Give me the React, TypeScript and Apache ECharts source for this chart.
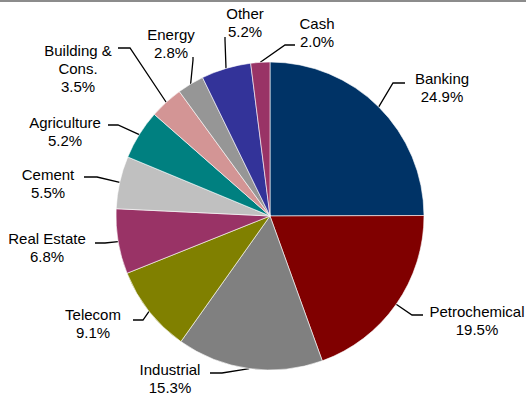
import React, { useEffect, useRef } from "react";
import * as echarts from "echarts";

// Portfolio allocation by sector (percent)
const sectors = [
  "Banking",
  "Petrochemical",
  "Industrial",
  "Telecom",
  "Real Estate",
  "Cement",
  "Agriculture",
  "Building & Cons.",
  "Energy",
  "Other",
  "Cash",
];
const weights = [24.9, 19.5, 15.3, 9.1, 6.8, 5.5, 5.2, 3.5, 2.8, 5.2, 2.0];
const colors = [
  "#003366",
  "#800000",
  "#808080",
  "#808000",
  "#993366",
  "#c0c0c0",
  "#008080",
  "#d39595",
  "#969696",
  "#333399",
  "#993366",
];

// Label placement: text block centre, leader-line bend and leader-line end
const labelCenters = [
  [442, 87],
  [477, 320],
  [170, 378],
  [93, 323],
  [47, 247],
  [48, 183],
  [65, 131],
  [78, 68],
  [171, 43],
  [245, 22],
  [317, 32],
];
const lineBends = [
  [393, 83],
  [412, 315],
  [222, 373],
  [143, 320],
  [105, 243],
  [97, 177],
  [118, 125],
  [130, 48],
  [193, 60],
  [225, 40],
  [285, 45],
];
const lineEnds = [
  [405, 83],
  [423, 315],
  [210, 373],
  [133, 320],
  [95, 243],
  [84, 177],
  [108, 125],
  [118, 48],
  [193, 57],
  [225, 37],
  [295, 45],
];

const FONT = 'Arial, "Liberation Sans", sans-serif';

export default function App() {
  const ref = useRef<HTMLDivElement>(null);

  useEffect(() => {
    if (!ref.current) return;
    const chart = echarts.init(ref.current, undefined, { renderer: "svg" });
    chart.setOption({
      animation: false,
      backgroundColor: "#ffffff",
      graphic: [
        {
          type: "rect",
          left: 0,
          top: 0,
          shape: { width: 526, height: 2 },
          style: { fill: "#8c8c8c" },
          silent: true,
        },
      ],
      series: [
        {
          type: "pie",
          center: [270, 216],
          radius: 154,
          startAngle: 90,
          clockwise: true,
          avoidLabelOverlap: false,
          itemStyle: { borderColor: "#ffffff", borderWidth: 0.6 },
          label: {
            show: true,
            position: "outside",
            alignTo: "none",
            color: "#000000",
            fontFamily: FONT,
            fontSize: 15,
            lineHeight: 18,
            align: "center",
            formatter: (p: any) =>
              `${String(p.name).replace(" & ", " &\n")}\n${Number(p.value).toFixed(1)}%`,
          },
          labelLine: {
            show: true,
            length: 15,
            length2: 10,
            lineStyle: { color: "#000000", width: 1.3 },
          },
          labelLayout: (params: any) => {
            const i = params.dataIndex;
            const start =
              params.labelLinePoints && params.labelLinePoints[0]
                ? params.labelLinePoints[0]
                : lineBends[i];
            return {
              x: labelCenters[i][0],
              y: labelCenters[i][1],
              align: "center",
              verticalAlign: "middle",
              labelLinePoints: [start, lineBends[i], lineEnds[i]],
            };
          },
          emphasis: { disabled: true },
          data: sectors.map((name, i) => ({
            name,
            value: weights[i],
            itemStyle: { color: colors[i] },
          })),
        },
      ],
    });
    return () => chart.dispose();
  }, []);

  return (
    <div
      ref={ref}
      style={{ position: "fixed", left: 0, top: 0, width: 526, height: 395 }}
    />
  );
}
